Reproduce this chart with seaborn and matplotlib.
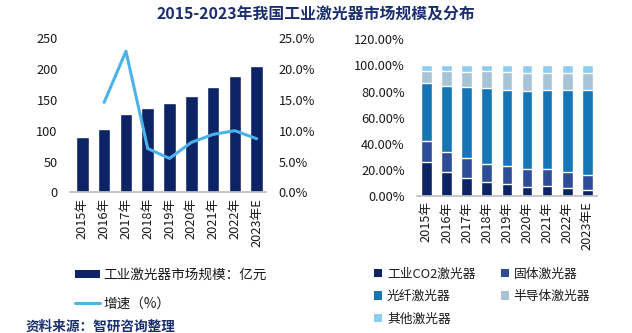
import numpy as np
import pandas as pd
import matplotlib
matplotlib.use("Agg")
import matplotlib.pyplot as plt
import seaborn as sns
from matplotlib.patches import Patch
from matplotlib.lines import Line2D
from matplotlib.ticker import FuncFormatter, MultipleLocator

# ---- data ----
years = ["2015年", "2016年", "2017年", "2018年", "2019年", "2020年", "2021年", "2022年", "2023年E"]
market_size = [90, 103, 127, 137, 145, 156, 171, 189, 205]          # 亿元
growth = [14.6, 22.9, 7.1, 5.5, 8.1, 9.4, 10.0, 8.7]                 # % from 2016
share_co2 = [25.9, 18.2, 13.6, 10.5, 9.0, 6.7, 7.4, 5.9, 4.4]
share_solid = [16.2, 15.4, 15.4, 13.9, 13.8, 13.8, 13.1, 12.3, 11.5]
share_fiber = [44.6, 50.8, 54.6, 58.4, 58.5, 60.0, 60.8, 63.1, 65.4]
share_semi = [8.9, 11.2, 11.5, 12.8, 13.8, 13.9, 13.1, 13.1, 13.1]
share_other = [4.4, 4.4, 4.9, 4.4, 4.9, 5.6, 5.6, 5.6, 5.6]
series_names = ["工业CO2激光器", "固体激光器", "光纤激光器", "半导体激光器", "其他激光器"]
series_colors = ["#0c2466", "#2e4d99", "#1575b5", "#a9c3d6", "#8dcdf2"]

sns.set_theme(style="white")
plt.rcParams["font.family"] = ["Noto Sans CJK SC", "DejaVu Sans"]
plt.rcParams["axes.unicode_minus"] = False

TXT = "#1a1a1a"
NAVY = "#1b2f6e"
fs = 9.2

fig = plt.figure(figsize=(6.32, 3.33), dpi=100)

# ---- left chart ----
ax1 = fig.add_axes([0.111, 0.4225, 0.310, 0.4625])
df1 = pd.DataFrame({"year": years, "size": market_size})
sns.barplot(data=df1, x="year", y="size", ax=ax1, color="#0c2466", saturation=1, width=0.58)
ax1.set_xlim(-0.56, 8.43)
ax1.set_ylim(0, 250)
ax1.yaxis.set_major_locator(MultipleLocator(50))
ax1.set_xlabel("")
ax1.set_ylabel("")
for s in ["top", "right", "left"]:
    ax1.spines[s].set_visible(False)
ax1.spines["bottom"].set_color("#bfbfbf")
ax1.tick_params(axis="x", rotation=90, labelsize=fs, colors=TXT, length=0, pad=4)
ax1.tick_params(axis="y", labelsize=fs, colors=TXT, length=0, pad=9)

ax2 = ax1.twinx()
dfl = pd.DataFrame({"x": np.arange(1, len(years)), "g": growth})
sns.lineplot(data=dfl, x="x", y="g", ax=ax2, color="#4cb2ea", linewidth=2.2)
ax2.set_ylim(0, 25)
ax2.yaxis.set_major_locator(MultipleLocator(5))
ax2.yaxis.set_major_formatter(FuncFormatter(lambda v, p: f"{v:.1f}%"))
ax2.set_xlim(-0.56, 8.43)
ax2.set_xlabel("")
ax2.set_ylabel("")
for s in ["top", "right", "left", "bottom"]:
    ax2.spines[s].set_visible(False)
ax2.tick_params(axis="y", labelsize=fs, colors=TXT, length=0, pad=9)

# ---- right chart ----
ax3 = fig.add_axes([0.660, 0.412, 0.285, 0.4697])
layers = [share_co2, share_solid, share_fiber, share_semi, share_other]
cum = np.cumsum(np.array(layers), axis=0)
for i in range(len(layers) - 1, -1, -1):
    dfi = pd.DataFrame({"year": years, "v": cum[i]})
    sns.barplot(data=dfi, x="year", y="v", ax=ax3, color=series_colors[i],
                saturation=1, width=0.53)
ax3.set_xlim(-0.46, 8.49)
ax3.set_ylim(0, 120)
ax3.yaxis.set_major_locator(MultipleLocator(20))
ax3.yaxis.set_major_formatter(FuncFormatter(lambda v, p: f"{v:.2f}%"))
ax3.set_xlabel("")
ax3.set_ylabel("")
for s in ["top", "right", "left"]:
    ax3.spines[s].set_visible(False)
ax3.spines["bottom"].set_color("#bfbfbf")
ax3.tick_params(axis="x", rotation=90, labelsize=fs, colors=TXT, length=0, pad=4)
ax3.tick_params(axis="y", labelsize=fs, colors=TXT, length=0, pad=9)

# ---- title ----
fig.text(0.5, 0.957, "2015-2023年我国工业激光器市场规模及分布", ha="center", va="center",
         fontsize=11.4, fontweight="bold", color=NAVY)

# ---- legends ----
lfs = 9.8
h_left = [Patch(facecolor="#0c2466", edgecolor="none", label="工业激光器市场规模：亿元"),
          Line2D([0], [0], color="#4cb2ea", lw=2.2, label="增速（%）")]
fig.legend(handles=h_left, loc="center left", bbox_to_anchor=(0.118, 0.1315),
           frameon=False, fontsize=lfs, handlelength=1.84, handleheight=0.5,
           handletextpad=0.27, labelspacing=1.06, labelcolor=TXT,
           borderpad=0, borderaxespad=0)

rfs = 9.2
h_right = [Patch(facecolor=c, edgecolor="none", label=n) for c, n in zip(series_colors, series_names)]
order = [0, 2, 4, 1, 3]
fig.legend(handles=[h_right[i] for i in order], loc="center left",
           bbox_to_anchor=(0.592, 0.1096), ncol=2, frameon=False, fontsize=rfs,
           handlelength=0.63, handleheight=0.63, handletextpad=0.37,
           labelspacing=0.73, columnspacing=2.0, labelcolor=TXT,
           borderpad=0, borderaxespad=0)

fig.text(0.04, 0.018, "资料来源：智研咨询整理", ha="left", va="center",
         fontsize=9.8, fontweight="bold", color=NAVY)

fig.savefig("out.png", dpi=100)
